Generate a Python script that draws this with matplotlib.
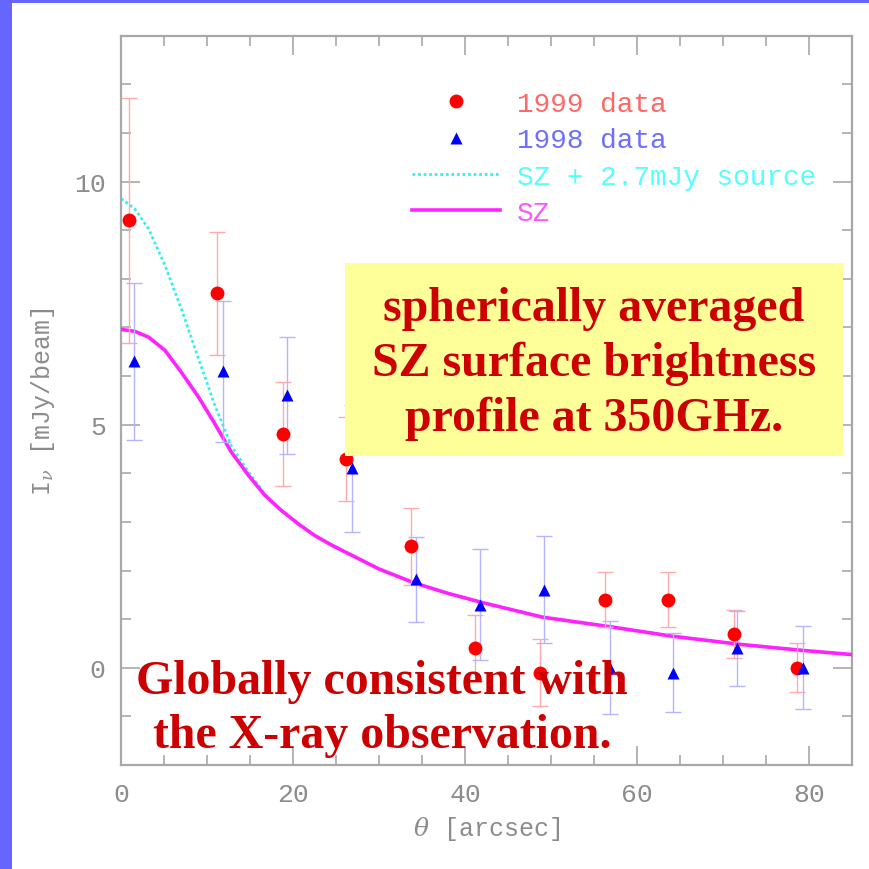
import matplotlib
matplotlib.use("Agg")
import matplotlib.pyplot as plt
from matplotlib.patches import Rectangle
from matplotlib.ticker import MultipleLocator

# ---------------- data ----------------
theta_1999 = [0.9, 11.2, 18.8, 26.2, 33.7, 41.1, 48.7, 56.2, 63.6, 71.2, 78.6]
flux_1999 = [9.2, 7.7, 4.8, 4.3, 2.5, 0.4, -0.1, 1.4, 1.4, 0.7, 0.0]
err_1999 = [2.52, 1.27, 1.07, 0.86, 0.79, 0.68, 0.69, 0.57, 0.57, 0.49, 0.5]

theta_1998 = [1.5, 11.8, 19.3, 26.8, 34.3, 41.7, 49.2, 56.8, 64.2, 71.6, 79.2]
flux_1998 = [6.3, 6.1, 5.6, 4.1, 1.82, 1.3, 1.6, 0.0, -0.1, 0.4, 0.0]
err_1998 = [1.62, 1.45, 1.2, 1.3, 0.87, 1.15, 1.1, 0.96, 0.82, 0.77, 0.85]

theta_sz = [0, 1.6, 3.2, 5.1, 7.0, 9.0, 10.9, 12.8, 14.8, 16.7, 18.6, 20.6,
            22.5, 24.4, 26.4, 30, 34, 38, 42, 49, 57, 64, 72, 79, 85]
flux_sz = [6.96, 6.92, 6.80, 6.53, 6.08, 5.57, 5.02, 4.44, 3.96, 3.55, 3.24,
           2.96, 2.72, 2.53, 2.35, 2.03, 1.75, 1.53, 1.34, 1.04, 0.84, 0.65,
           0.48, 0.36, 0.27]

theta_src = [0, 1.6, 3.2, 5.1, 7.0, 9.0, 10.9, 12.8, 14.8, 16.7, 18.0, 18.6,
             20.6, 22.5, 24.4, 26.4, 30, 34, 38, 42, 49, 57, 64, 72, 79, 85]
flux_src = [9.65, 9.44, 9.03, 8.28, 7.39, 6.36, 5.40, 4.57, 4.03, 3.58, 3.34,
            3.24, 2.96, 2.72, 2.53, 2.35, 2.03, 1.75, 1.53, 1.34, 1.04, 0.84,
            0.65, 0.48, 0.36, 0.27]

labels = ["1999 data", "1998 data", "SZ + 2.7mJy source", "SZ"]
x_ticks = [0, 20, 40, 60, 80]
y_ticks = [0, 5, 10]

box_text = "spherically averaged\nSZ surface brightness\nprofile at 350GHz."
bottom_text = "Globally consistent with\nthe X-ray observation."

# ---------------- styling ----------------
GRAY = "#8c8c8c"
MONO = "Liberation Mono"
plt.rcParams["mathtext.fontset"] = "custom"
plt.rcParams["mathtext.rm"] = MONO
plt.rcParams["mathtext.it"] = "DejaVu Serif:italic"

fig = plt.figure(figsize=(8.7, 8.7), dpi=100)
fig.patch.set_facecolor("white")
W = H = 870.0

# blue slide border (left & top)
fig.patches.append(Rectangle((0, 0), 12 / W, 1, transform=fig.transFigure,
                             facecolor="#6666ff", edgecolor="none", zorder=0))
fig.patches.append(Rectangle((0, 1 - 4 / H), 1, 4 / H, transform=fig.transFigure,
                             facecolor="#6666ff", edgecolor="none", zorder=0))

left, right, top, bottom = 121, 852.5, 36.7, 766
ax = fig.add_axes([left / W, 1 - bottom / H, (right - left) / W, (bottom - top) / H])
ax.set_xlim(0, 85)
ax.set_ylim(-2, 13)

for s in ax.spines.values():
    s.set_color("#a8a8a8")
    s.set_linewidth(1.6)

ax.set_xticks(x_ticks)
ax.set_yticks(y_ticks)
ax.xaxis.set_minor_locator(MultipleLocator(5))
ax.yaxis.set_minor_locator(MultipleLocator(1))
ax.tick_params(which="both", direction="in", top=True, right=True,
               color="#a0a0a0", width=1.1)
ax.tick_params(which="major", length=14)
ax.tick_params(which="minor", length=7)
ax.tick_params(axis="x", which="major", pad=12, labelsize=19, labelcolor=GRAY)
ax.tick_params(axis="y", which="major", pad=11, labelsize=19, labelcolor=GRAY)
for lab in ax.get_xticklabels() + ax.get_yticklabels():
    lab.set_family(MONO)

ax.set_xlabel(r"$\mathit{\theta}$ [arcsec]", fontsize=18, color=GRAY,
              family=MONO, labelpad=6)
ax.set_ylabel(r"I$_\mathit{\nu}$ [mJy/beam]", fontsize=18, color=GRAY,
              family=MONO, labelpad=12)

# curves
l_src, = ax.plot(theta_src, flux_src, color="#33f0f0", lw=2.0,
                 linestyle=(0, (1, 1)), zorder=2)
l_sz, = ax.plot(theta_sz, flux_sz, color="#ff22ff", lw=2.6, zorder=3,
                solid_joinstyle="round")

# data with error bars
ax.errorbar(theta_1999, flux_1999, yerr=err_1999, fmt="none",
            ecolor="#ffaaaa", elinewidth=1.0, capsize=6, capthick=1.0, zorder=4)
ax.errorbar(theta_1998, flux_1998, yerr=err_1998, fmt="none",
            ecolor="#b4b4ff", elinewidth=1.0, capsize=6, capthick=1.0, zorder=4)
p99, = ax.plot(theta_1999, flux_1999, "o", color="#ff0000", ms=10,
               mec="none", zorder=5)
p98, = ax.plot(theta_1998, flux_1998, "^", color="#0000ff", ms=8,
               mec="none", zorder=5)

leg = ax.legend([p99, p98, l_src, l_sz], labels, loc="upper left",
                bbox_to_anchor=(412 / W, 1 - 92 / H), bbox_transform=fig.transFigure,
                frameon=False, borderpad=0, borderaxespad=0,
                handlelength=3.17, handletextpad=0.6, labelspacing=0.37,
                prop={"family": MONO, "size": 20}, numpoints=1)
for txt, col in zip(leg.get_texts(), ["#ff6666", "#6f6fff", "#55ffff", "#ff55ff"]):
    txt.set_color(col)
leg.set_zorder(6)

# yellow annotation box
bx0, bx1, by0, by1 = 345, 842.5, 264, 457
fig.patches.append(Rectangle((bx0 / W, 1 - by1 / H), (bx1 - bx0) / W, (by1 - by0) / H,
                             transform=fig.transFigure, facecolor="#ffff99",
                             edgecolor="none", zorder=10))
fig.text((bx0 + bx1) / 2 / W, 1 - 364 / H, box_text,
         ha="center", va="center", multialignment="center",
         family="Liberation Serif", weight="bold", fontsize=34.5,
         color="#cc0000", linespacing=1.31, zorder=11)

fig.text(382 / W, 1 - 709 / H, bottom_text, ha="center", va="center",
         multialignment="center", family="Liberation Serif", weight="bold",
         fontsize=34.5, color="#cc0000", linespacing=1.32, zorder=11)

fig.savefig("out.png", dpi=100)
